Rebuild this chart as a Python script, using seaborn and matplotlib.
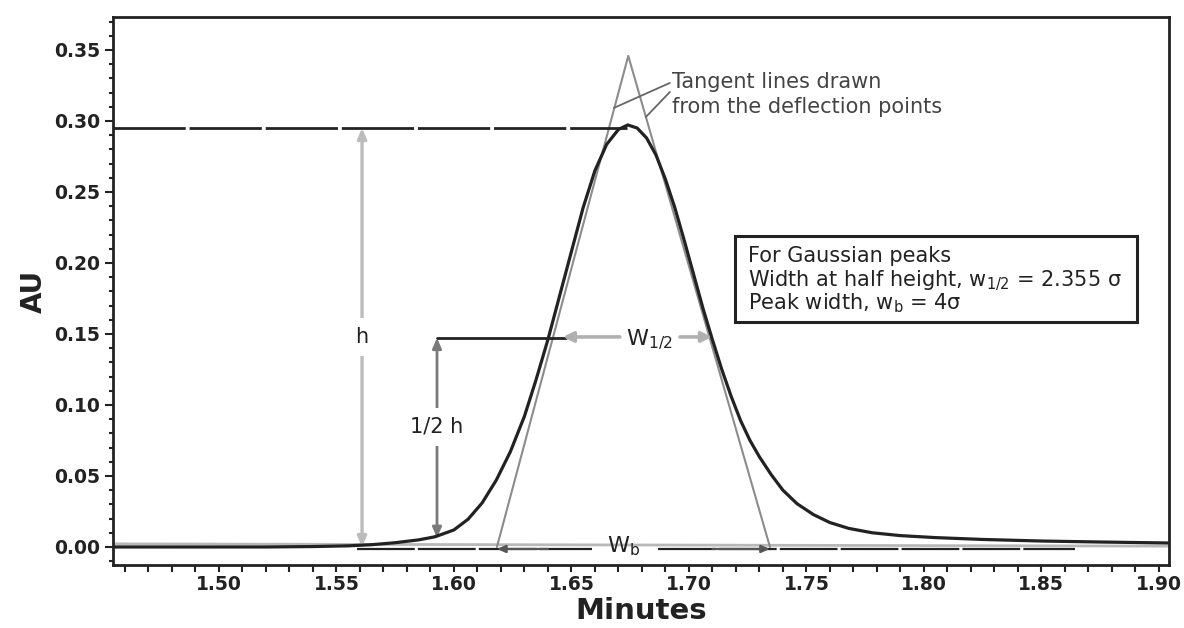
import numpy as np
import pandas as pd
import matplotlib
matplotlib.use("Agg")
import matplotlib.pyplot as plt
import seaborn as sns
from matplotlib.patches import Rectangle
from matplotlib.ticker import MultipleLocator

# ---- data ----
minutes = [1.4549, 1.5200, 1.5400, 1.5550, 1.5650, 1.5750, 1.5850, 1.5920, 1.6000, 1.6060,
           1.6120, 1.6180, 1.6240, 1.6300, 1.6350, 1.6400, 1.6450, 1.6500, 1.6550, 1.6600,
           1.6650, 1.6700, 1.6740, 1.6780, 1.6820, 1.6860, 1.6900, 1.6940, 1.6980, 1.7020,
           1.7060, 1.7100, 1.7140, 1.7180, 1.7220, 1.7260, 1.7300, 1.7350, 1.7400, 1.7460,
           1.7530, 1.7600, 1.7680, 1.7780, 1.7900, 1.8050, 1.8250, 1.8500, 1.8750, 1.9043]
au = [0.0000, 0.0000, 0.0003, 0.0008, 0.0016, 0.0030, 0.0050, 0.0072, 0.0120, 0.0195,
      0.0310, 0.0470, 0.0670, 0.0920, 0.1180, 0.1460, 0.1770, 0.2080, 0.2390, 0.2650,
      0.2835, 0.2940, 0.2972, 0.2950, 0.2880, 0.2760, 0.2590, 0.2390, 0.2160, 0.1920,
      0.1680, 0.1460, 0.1250, 0.1060, 0.0890, 0.0750, 0.0635, 0.0510, 0.0400, 0.0305,
      0.0228, 0.0172, 0.0131, 0.0100, 0.0080, 0.0066, 0.0053, 0.0042, 0.0035, 0.0028]

x_ticks = [1.50, 1.55, 1.60, 1.65, 1.70, 1.75, 1.80, 1.85, 1.90]
x_tick_labels = ["1.50", "1.55", "1.60", "1.65", "1.70", "1.75", "1.80", "1.85", "1.90"]
y_ticks = [0.00, 0.05, 0.10, 0.15, 0.20, 0.25, 0.30, 0.35]
y_tick_labels = ["0.00", "0.05", "0.10", "0.15", "0.20", "0.25", "0.30", "0.35"]

peak_height = 0.2950
half_height = 0.1472
h_x = 1.5609
half_h_x = 1.5928
half_h_base = 0.0065
tangent_x = [1.6183, 1.6742, 1.7345]
tangent_y = [0.0, 0.3458, 0.0]
w_half_left, w_half_right = 1.6464, 1.7098
wb_left, wb_right = 1.6183, 1.7345
wb_y = -0.0014

box_lines = ["For Gaussian peaks",
             r"Width at half height, w$_{\mathregular{1/2}}$ = 2.355 σ",
             r"Peak width, w$_{\mathregular{b}}$ = 4σ"]
tangent_note = ["Tangent lines drawn", "from the deflection points"]

XMIN, XMAX = 1.4549, 1.9043
YMIN, YMAX = -0.0127, 0.3732

# ---- style ----
sns.set_theme(style="ticks")
plt.rcParams["font.family"] = ["DejaVu Sans"]
plt.rcParams["mathtext.fontset"] = "dejavusans"

fig = plt.figure(figsize=(11.84, 6.28), dpi=100)
ax = fig.add_axes([0.0954, 0.1003, 0.8919, 0.8726])

ink = "#222222"

# baseline (gray)
ax.plot([XMIN, XMAX], [0.0022, 0.0006], color="#b8b8b8", lw=2.0, zorder=1.5)

# tangent lines
ax.plot(tangent_x, tangent_y, color="#8c8c8c", lw=1.5, zorder=1.8)

# chromatogram curve
df = pd.DataFrame({"Minutes": minutes, "AU": au})
sns.lineplot(data=df, x="Minutes", y="AU", ax=ax, color=ink, lw=2.3, zorder=3,
             sort=False, estimator=None)

dash = (26, 1.4)
# peak height dashed line
ax.plot([XMIN, 1.6735], [peak_height, peak_height], color=ink, lw=2.0,
        dashes=dash, zorder=2.2)
# base width dashed line (split around the label)
ax.plot([1.5587, 1.6587], [wb_y, wb_y], color=ink, lw=1.6, dashes=dash, zorder=2.2)
ax.plot([1.6868, 1.8643], [wb_y, wb_y], color=ink, lw=1.6, dashes=dash, zorder=2.2)

# h arrow
ax.annotate("", xy=(h_x, peak_height), xytext=(h_x, 0.0),
            arrowprops=dict(arrowstyle="<|-|>,head_length=0.5,head_width=0.22",
                            color="#bcbcbc", lw=2.4, shrinkA=0, shrinkB=0,
                            mutation_scale=12), zorder=2)
ax.text(h_x, 0.1479, "h", ha="center", va="center", fontsize=15, color=ink,
        bbox=dict(boxstyle="square,pad=0.45", fc="white", ec="none"), zorder=2.1)

# 1/2 h arrow
ax.annotate("", xy=(half_h_x, half_height), xytext=(half_h_x, half_h_base),
            arrowprops=dict(arrowstyle="<|-|>,head_length=0.5,head_width=0.22",
                            color="#7a7a7a", lw=2.0, shrinkA=0, shrinkB=0,
                            mutation_scale=12), zorder=2)
ax.text(half_h_x, 0.0845, "1/2 h", ha="center", va="center", fontsize=15, color=ink,
        bbox=dict(boxstyle="square,pad=0.45", fc="white", ec="none"), zorder=2.1)

# half-height black line
ax.plot([half_h_x, 1.6477], [half_height, half_height], color=ink, lw=2.0, zorder=3.2)

# W1/2 arrows
ax.annotate("", xy=(w_half_left, 0.1479), xytext=(1.6706, 0.1479),
            arrowprops=dict(arrowstyle="-|>,head_length=0.5,head_width=0.25",
                            color="#b0b0b0", lw=2.6, shrinkA=0, shrinkB=0,
                            mutation_scale=12), zorder=3.3)
ax.annotate("", xy=(w_half_right, 0.1479), xytext=(1.6962, 0.1479),
            arrowprops=dict(arrowstyle="-|>,head_length=0.5,head_width=0.25",
                            color="#b0b0b0", lw=2.6, shrinkA=0, shrinkB=0,
                            mutation_scale=12), zorder=3.3)
ax.text(1.6834, 0.1458, r"W$_{\mathregular{1/2}}$", ha="center", va="center",
        fontsize=16, color=ink, zorder=4)

# Wb arrows
ax.annotate("", xy=(wb_left, wb_y), xytext=(1.6400, wb_y),
            arrowprops=dict(arrowstyle="-|>,head_length=0.5,head_width=0.22",
                            color="#555555", lw=1.6, shrinkA=0, shrinkB=0,
                            mutation_scale=10), zorder=2.3)
ax.annotate("", xy=(wb_right, wb_y), xytext=(1.7100, wb_y),
            arrowprops=dict(arrowstyle="-|>,head_length=0.5,head_width=0.22",
                            color="#555555", lw=1.6, shrinkA=0, shrinkB=0,
                            mutation_scale=10), zorder=2.3)
ax.text(1.6720, 0.0008, r"W$_{\mathregular{b}}$", ha="center", va="center",
        fontsize=16, color=ink, zorder=4)

# tangent annotation
ax.text(1.6928, 0.3232, tangent_note[0], fontsize=15, color="#444444", va="baseline")
ax.text(1.6928, 0.3056, tangent_note[1], fontsize=15, color="#444444", va="baseline")
ax.plot([1.6919, 1.6681], [0.3268, 0.3092], color="#666666", lw=1.3, zorder=2)
ax.plot([1.6919, 1.6817], [0.3204, 0.3028], color="#666666", lw=1.3, zorder=2)

# information box
ax.add_patch(Rectangle((1.7196, 0.1585), 0.1710, 0.0605, fc="white", ec=ink,
                       lw=2.2, zorder=3))
ax.text(1.7251, 0.2007, box_lines[0], fontsize=15, color=ink, va="baseline",
        ha="left", zorder=4)
ax.text(1.7251, 0.1676, "\n".join(box_lines[1:]), fontsize=15, color=ink,
        va="baseline", ha="left", linespacing=0.86, zorder=4)

# ---- axes ----
ax.set_xlim(XMIN, XMAX)
ax.set_ylim(YMIN, YMAX)
ax.set_xticks(x_ticks)
ax.set_xticklabels(x_tick_labels)
ax.set_yticks(y_ticks)
ax.set_yticklabels(y_tick_labels)
ax.xaxis.set_minor_locator(MultipleLocator(0.01))
ax.yaxis.set_minor_locator(MultipleLocator(0.01))

for lab in ax.get_xticklabels() + ax.get_yticklabels():
    lab.set_fontweight("bold")
    lab.set_fontsize(13.5)
    lab.set_color(ink)

ax.tick_params(axis="both", which="both", direction="out", color=ink, width=1.5)
ax.tick_params(axis="x", which="major", length=5, pad=2)
ax.tick_params(axis="x", which="minor", length=5)
ax.tick_params(axis="y", which="major", length=6, pad=3)
ax.tick_params(axis="y", which="minor", length=3)

for sp in ax.spines.values():
    sp.set_visible(True)
    sp.set_linewidth(2.0)
    sp.set_color(ink)

ax.set_xlabel("Minutes", fontsize=21, fontweight="bold", color=ink)
ax.set_ylabel("AU", fontsize=20, fontweight="bold", color=ink)
ax.xaxis.set_label_coords(0.5, -0.058)
ax.yaxis.set_label_coords(-0.0616, 0.5)

fig.savefig("out.png", dpi=100, facecolor="white")
